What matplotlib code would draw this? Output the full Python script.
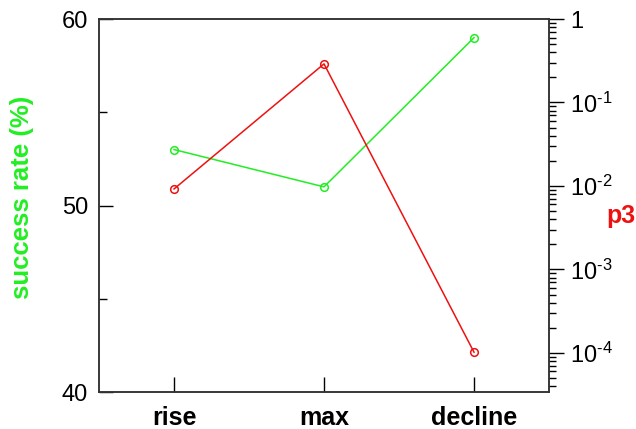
import math
import matplotlib
matplotlib.use("Agg")
import matplotlib.pyplot as plt
from matplotlib.ticker import LogLocator, FixedLocator, NullFormatter, FuncFormatter

plt.rcParams['font.family'] = ['Liberation Sans', 'DejaVu Sans']
plt.rcParams['mathtext.fontset'] = 'custom'
plt.rcParams['mathtext.rm'] = 'Liberation Sans'
plt.rcParams['mathtext.default'] = 'regular'

categories = ["rise", "max", "decline"]
success_rate = [53.0, 51.0, 59.0]
p3 = [9.2e-3, 0.29, 1.02e-4]

GREEN = '#22ee22'
RED = '#ee1111'

fig = plt.figure(figsize=(6.36, 4.29), dpi=100)
ax = fig.add_axes([0.1557, 0.0862, 0.7075, 0.8695])
x = list(range(len(categories)))

ax.plot(x, success_rate, color=GREEN, lw=1.1, marker='o', ms=5.5,
        mfc='none', mec=GREEN, mew=1.1, zorder=3)
ax.set_xlim(-0.5, 2.5)
ax.set_ylim(40, 60)
ax.set_yticks([40, 50, 60])
ax.yaxis.set_minor_locator(FixedLocator([45, 55]))
ax.set_xticks(x)
ax.set_xticklabels(categories, fontweight='bold', fontsize=18)
ax.tick_params(axis='y', which='major', direction='in', length=10, width=1,
               labelsize=17, pad=8, right=False)
ax.tick_params(axis='y', which='minor', direction='in', length=6, width=1, right=False)
ax.tick_params(axis='x', which='major', direction='in', length=11, width=1,
               pad=10, top=False)

fig.text(22 / 636, 1 - 197 / 429, "success rate (%)", color=GREEN,
         fontweight='bold', fontsize=18.5, rotation=90, ha='center', va='center')

ax2 = ax.twinx()
ax2.plot(x, p3, color=RED, lw=1.1, marker='o', ms=5.5,
         mfc='none', mec=RED, mew=1.1, zorder=3)
ax2.set_yscale('log')
ax2.set_ylim(3.4e-5, 1)
ax2.yaxis.set_major_locator(FixedLocator([1e-4, 1e-3, 1e-2, 1e-1, 1]))
ax2.yaxis.set_minor_locator(LogLocator(base=10, subs=[2, 3, 4, 5, 6, 7, 8, 9]))
ax2.yaxis.set_minor_formatter(NullFormatter())

def fmt(v, pos):
    e = int(round(math.log10(v)))
    if e == 0:
        return "1"
    return r"$10^{\text{-}%d}$" % (-e)

ax2.yaxis.set_major_formatter(FuncFormatter(fmt))
ax2.tick_params(axis='y', which='major', direction='out', length=11, width=1,
                labelsize=17, pad=4)
ax2.tick_params(axis='y', which='minor', direction='out', length=5, width=1)

fig.text(0.999, 1 - 216 / 429, "p3", color=RED, fontweight='bold',
         fontsize=18, ha='right', va='center')

for a in (ax, ax2):
    for s in a.spines.values():
        s.set_color('#333333')
        s.set_linewidth(1.1)

fig.savefig("out.png", dpi=100)
